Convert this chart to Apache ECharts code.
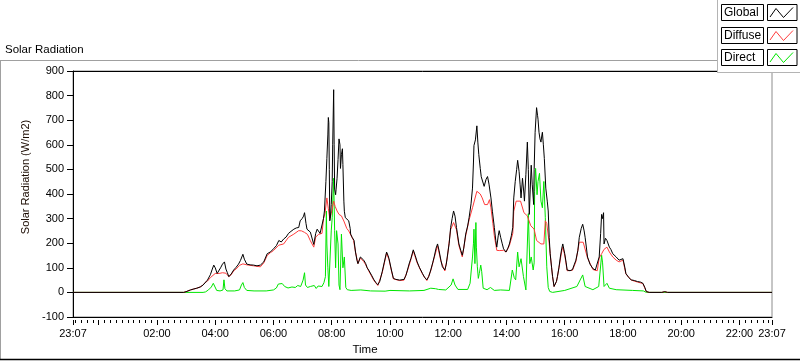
<!DOCTYPE html>
<html><head><meta charset="utf-8">
<script src="https://cdn.jsdelivr.net/npm/echarts@6/dist/echarts.min.js"></script>
<style>html,body{margin:0;padding:0;background:#fff}#c{width:800px;height:361px}</style>
</head><body><div id="c"></div>
<script>
// Time is in minutes since midnight; -53 = 23:07 of the previous day, 1387 = 23:07.
const xMin = -53, xMax = 1387;
const xLabelTicks = [-53, 120, 240, 360, 480, 600, 720, 840, 960, 1080, 1200, 1320, 1387];
const seriesNames = ['Global', 'Diffuse', 'Direct'];
const seriesColors = ['#000000', '#ff3c3c', '#00e600'];

const globalData = [[-53,0],[175,0],[180,3],[189,10],[196,14],[202,17],[209,22],[215,30],[219,37],[224,50],[230,72],[234,95],[237,111],[240,100],[244,77],[248,85],[251,100],[255,115],[259,124],[262,95],[265,80],[268,64],[273,75],[278,91],[283,102],[288,115],[292,130],[297,155],[300,135],[305,115],[312,112],[319,111],[326,108],[333,111],[340,124],[347,157],[354,165],[360,177],[366,190],[371,211],[376,205],[381,217],[386,225],[391,240],[396,248],[402,257],[407,262],[412,264],[415,291],[419,300],[422,310],[424,324],[427,280],[429,257],[433,251],[436,245],[440,237],[443,195],[447,240],[450,257],[453,257],[456,240],[460,244],[463,300],[465,331],[468,450],[470,544],[472,640],[473,711],[474,690],[475,500],[476,291],[477,300],[479,357],[481,450],[482,600],[484,824],[485,600],[486,420],[488,397],[489,420],[491,464],[493,540],[495,624],[497,600],[498,504],[500,560],[502,584],[503,520],[505,371],[506,330],[508,304],[511,300],[515,291],[518,260],[519,237],[522,224],[526,211],[529,164],[532,130],[534,117],[536,125],[539,144],[543,140],[546,131],[550,117],[553,100],[556,91],[562,70],[567,51],[571,40],[575,31],[579,45],[584,84],[588,120],[593,164],[596,150],[598,137],[603,91],[607,57],[612,53],[620,50],[629,53],[633,70],[636,91],[640,120],[643,137],[648,173],[652,150],[656,124],[661,100],[667,77],[671,62],[676,51],[680,65],[684,91],[688,120],[691,144],[695,180],[698,197],[701,171],[705,130],[708,104],[713,91],[716,115],[718,144],[722,200],[725,264],[728,300],[731,331],[734,310],[737,264],[742,197],[746,170],[749,151],[752,180],[756,237],[760,270],[763,304],[767,360],[770,424],[772,530],[773,597],[776,620],[779,677],[781,611],[783,560],[786,504],[788,470],[791,477],[794,431],[798,460],[801,471],[804,440],[808,384],[811,330],[815,264],[818,210],[820,184],[823,230],[825,251],[828,224],[831,200],[834,177],[839,164],[843,180],[846,197],[850,230],[853,264],[855,384],[858,450],[861,500],[863,537],[866,491],[868,440],[870,384],[873,464],[876,400],[877,371],[880,480],[883,611],[885,500],[887,317],[889,420],[891,517],[893,440],[896,357],[897,500],[899,651],[902,751],[904,720],[905,704],[907,651],[909,624],[911,611],[913,640],[914,651],[916,600],[918,544],[921,424],[924,371],[926,331],[928,224],[930,157],[933,100],[935,64],[938,24],[940,24],[943,45],[945,64],[948,100],[951,144],[954,180],[956,197],[960,157],[963,120],[965,91],[971,88],[976,93],[980,115],[983,131],[987,170],[990,224],[994,260],[997,277],[1000,250],[1002,224],[1007,144],[1012,115],[1018,97],[1023,91],[1027,91],[1031,144],[1034,240],[1036,317],[1038,300],[1040,324],[1041,197],[1044,220],[1047,211],[1052,184],[1055,175],[1059,157],[1066,144],[1072,131],[1076,137],[1080,137],[1084,100],[1086,77],[1092,60],[1097,51],[1104,48],[1110,44],[1116,42],[1121,37],[1125,20],[1128,4],[1134,0],[1160,0],[1166,3],[1169,4],[1172,0],[1387,0]];

const diffuseData = [[-53,0],[175,0],[180,3],[189,10],[196,14],[202,17],[209,22],[215,30],[219,40],[224,46],[230,60],[234,68],[240,77],[248,77],[255,80],[262,78],[268,64],[273,72],[278,88],[283,95],[290,110],[297,116],[305,112],[319,108],[333,104],[340,120],[347,150],[354,162],[360,170],[371,192],[381,197],[391,224],[402,237],[412,251],[418,250],[424,244],[430,236],[436,210],[443,184],[447,225],[453,236],[460,240],[463,300],[466,320],[470,384],[473,340],[476,300],[479,320],[484,371],[487,350],[491,331],[495,317],[500,311],[505,290],[511,260],[515,250],[519,251],[525,211],[529,164],[534,117],[539,140],[546,125],[550,112],[556,88],[567,48],[575,28],[584,80],[593,160],[598,133],[603,88],[607,55],[620,48],[629,50],[636,88],[643,133],[648,168],[656,120],[667,74],[676,48],[684,88],[691,140],[698,190],[705,126],[713,87],[718,140],[725,255],[731,284],[737,255],[742,190],[749,144],[756,230],[763,295],[770,344],[779,411],[786,400],[790,384],[795,357],[801,357],[805,377],[808,344],[812,280],[815,230],[820,171],[825,170],[834,171],[839,164],[846,190],[853,240],[855,330],[860,371],[869,371],[876,324],[883,311],[890,271],[897,257],[902,211],[911,197],[917,197],[920,291],[923,280],[925,277],[928,200],[930,157],[935,64],[938,24],[943,44],[948,98],[954,170],[956,184],[960,152],[965,88],[976,90],[983,125],[990,204],[994,211],[998,204],[1002,200],[1007,140],[1018,93],[1027,88],[1031,140],[1036,157],[1041,175],[1047,184],[1052,164],[1059,144],[1066,131],[1072,124],[1080,131],[1086,75],[1097,50],[1110,42],[1121,36],[1125,18],[1128,3],[1134,0],[1160,0],[1166,3],[1169,4],[1172,0],[1387,0]];

const directData = [[-53,0],[215,0],[220,2],[226,10],[232,22],[236,37],[239,30],[243,8],[250,6],[256,10],[258,51],[260,15],[264,6],[280,6],[290,10],[294,30],[297,40],[300,20],[305,8],[320,6],[345,6],[360,10],[366,18],[370,34],[374,28],[378,36],[383,24],[390,18],[398,22],[405,20],[410,28],[416,24],[421,50],[424,80],[426,30],[430,20],[436,24],[440,18],[444,28],[448,16],[452,26],[456,18],[460,24],[464,40],[467,64],[469,331],[470,197],[472,100],[474,24],[476,20],[479,250],[481,304],[484,464],[486,251],[488,100],[490,251],[493,197],[495,30],[497,11],[500,237],[503,100],[506,144],[509,20],[512,11],[520,8],[540,10],[560,6],[590,5],[600,8],[640,6],[670,8],[684,17],[694,15],[700,12],[715,10],[726,30],[730,55],[734,30],[740,12],[760,12],[765,37],[770,144],[772,200],[773,257],[775,117],[777,284],[778,184],[780,104],[782,57],[784,77],[787,111],[789,84],[792,17],[800,11],[807,20],[815,8],[828,10],[846,8],[852,91],[856,60],[859,51],[863,164],[866,104],[870,137],[875,64],[880,10],[883,17],[885,320],[888,117],[891,144],[895,91],[897,120],[898,411],[900,504],[903,397],[905,451],[908,484],[911,371],[914,344],[917,451],[920,304],[923,104],[926,20],[929,4],[935,0],[960,8],[985,24],[997,71],[1002,24],[1018,11],[1030,24],[1036,151],[1038,120],[1041,24],[1047,37],[1052,17],[1066,11],[1100,8],[1122,6],[1128,0],[1387,0]];

const minorTicks = [];
for (let m = -48; m <= 1380; m += 12) minorTicks.push(m);
const majorTicks = [-53];
for (let m = 0; m <= 1320; m += 120) majorTicks.push(m);
majorTicks.push(1387);

function fmt(m) {
  m = Math.round(((m % 1440) + 1440) % 1440);
  const h = Math.floor(m / 60), mm = m % 60;
  return String(h).padStart(2, '0') + ':' + String(mm).padStart(2, '0');
}

const FONT = "'Liberation Sans', Arial, sans-serif";
const chart = echarts.init(document.getElementById('c'), null, {renderer: 'canvas'});

const legendGraphics = [];
seriesNames.forEach((n, i) => {
  const top = 4 + Math.round(i * 22.7);
  legendGraphics.push({type: 'rect', z: 20, shape: {x: 721.5, y: top + 0.5, width: 42, height: 16}, style: {fill: '#fff', stroke: '#000', lineWidth: 1}, silent: true});
  legendGraphics.push({type: 'text', z: 21, x: 724, y: top + 3, style: {text: n, fill: '#000', font: "12px " + FONT}, silent: true});
  legendGraphics.push({type: 'rect', z: 20, shape: {x: 767.5, y: top + 0.5, width: 29.5, height: 16}, style: {fill: '#fff', stroke: '#000', lineWidth: 1}, silent: true});
  legendGraphics.push({type: 'polyline', z: 21, shape: {points: [[770, top + 13], [776, top + 4.5], [783.5, top + 13.5], [793, top + 3.5]]}, style: {stroke: seriesColors[i], lineWidth: 1, fill: null}, silent: true});
});

const mkSeries = (name, data, color, z) => ({
  name, type: 'line', data, showSymbol: false, symbol: 'none',
  lineStyle: {color, width: 1}, itemStyle: {color}, z, animation: false, xAxisIndex: 0, yAxisIndex: 0
});

chart.setOption({
  animation: false,
  backgroundColor: '#ffffff',
  title: {text: 'Solar Radiation', left: 5, top: 44, padding: 0, textStyle: {fontSize: 11.5, fontWeight: 'normal', color: '#000', fontFamily: FONT}},
  grid: {left: 73, right: 28, top: 71, bottom: 40, show: true, borderColor: '#8c8c8c', borderWidth: 1, backgroundColor: '#fff'},
  xAxis: [
    {type: 'value', min: xMin, max: xMax, position: 'bottom',
     name: 'Time', nameLocation: 'middle', nameGap: 27,
     nameTextStyle: {fontSize: 11.5, color: '#000', fontFamily: FONT, padding: [0, 115, 0, 0]},
     axisLine: {show: true, onZero: false, lineStyle: {color: '#000', width: 1}},
     axisTick: {show: false},
     axisLabel: {customValues: xLabelTicks, formatter: fmt, margin: 11, fontSize: 11, color: '#000', fontFamily: FONT, showMinLabel: true, showMaxLabel: true},
     splitLine: {show: false}},
    {type: 'value', min: xMin, max: xMax, position: 'bottom', offset: 3,
     axisLine: {show: false, onZero: false}, axisLabel: {show: false}, splitLine: {show: false},
     axisTick: {show: true, customValues: majorTicks, length: 5, lineStyle: {color: '#000'}}},
    {type: 'value', min: xMin, max: xMax, position: 'bottom', offset: 3,
     axisLine: {show: false, onZero: false}, axisLabel: {show: false}, splitLine: {show: false},
     axisTick: {show: true, customValues: minorTicks, length: 3, lineStyle: {color: '#000'}}},
    {type: 'value', min: xMin, max: xMax, position: 'top',
     axisLine: {show: true, onZero: false, lineStyle: {color: '#000'}}, axisTick: {show: false}, axisLabel: {show: false}, splitLine: {show: false}}
  ],
  yAxis: [
    {type: 'value', min: -100, max: 900, interval: 100, position: 'left',
     name: 'Solar Radiation (W/m2)', nameLocation: 'middle', nameGap: 37, nameRotate: 90,
     nameTextStyle: {fontSize: 11, color: '#1a0a00', fontFamily: FONT, padding: [0, 0, 0, 34]},
     axisLine: {show: true, onZero: false, lineStyle: {color: '#000'}},
     axisTick: {show: true, length: 6, lineStyle: {color: '#000'}},
     axisLabel: {margin: 9, fontSize: 11, color: '#000', fontFamily: FONT},
     splitLine: {show: false}}
  ],
  series: [
    mkSeries(seriesNames[2], directData, seriesColors[2], 2),
    mkSeries(seriesNames[1], diffuseData, seriesColors[1], 3),
    mkSeries(seriesNames[0], globalData, seriesColors[0], 4)
  ],
  graphic: [
    {type: 'line', shape: {x1: 0, y1: 60.5, x2: 717, y2: 60.5}, style: {stroke: '#a0a0a0', lineWidth: 1}, silent: true},
    {type: 'line', shape: {x1: 0.5, y1: 60, x2: 0.5, y2: 360}, style: {stroke: '#a0a0a0', lineWidth: 1}, silent: true},
    {type: 'line', shape: {x1: 0, y1: 359.5, x2: 800, y2: 359.5}, style: {stroke: '#000', lineWidth: 1.5}, silent: true},
    {type: 'rect', shape: {x: 717, y: 0, width: 83, height: 72}, style: {fill: '#fff', stroke: null}, z: 10, silent: true},
    {type: 'line', shape: {x1: 717.5, y1: 0, x2: 717.5, y2: 72}, style: {stroke: '#b4b4b4', lineWidth: 1}, z: 11, silent: true},
    {type: 'line', shape: {x1: 717, y1: 72.5, x2: 800, y2: 72.5}, style: {stroke: '#b4b4b4', lineWidth: 1}, z: 11, silent: true}
  ].concat(legendGraphics)
});
</script>
</body></html>
